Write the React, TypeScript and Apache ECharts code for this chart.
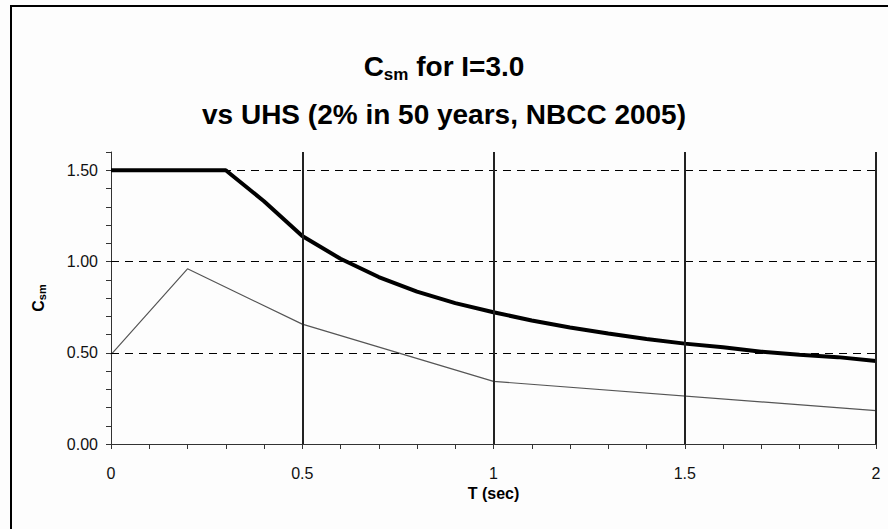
import React, { useEffect, useRef } from "react";
import * as echarts from "echarts";

const periods = [0, 0.1, 0.2, 0.3, 0.4, 0.5, 0.6, 0.7, 0.8, 0.9, 1.0, 1.1, 1.2, 1.3, 1.4, 1.5, 1.6, 1.7, 1.8, 1.9, 2.0];
const csmValues = [1.5, 1.5, 1.5, 1.5, 1.33, 1.14, 1.015, 0.915, 0.835, 0.772, 0.722, 0.677, 0.638, 0.606, 0.575, 0.55, 0.53, 0.506, 0.489, 0.476, 0.455];
const uhsPeriods = [0, 0.2, 0.5, 1.0, 2.0];
const uhsValues = [0.49, 0.96, 0.657, 0.343, 0.183];
const gridYValues = [0.5, 1.0, 1.5];
const gridXValues = [0.5, 1.0, 1.5, 2.0];
const xLabelValues = [0, 0.5, 1, 1.5, 2];
const yLabelValues = [0, 0.5, 1.0, 1.5];

const FONT = "'Liberation Sans', Arial, sans-serif";

const isIn = (v: number, arr: number[]) => arr.some((a) => Math.abs(a - v) < 1e-6);

export default function App() {
  const ref = useRef<HTMLDivElement>(null);
  useEffect(() => {
    if (!ref.current) return;
    const chart = echarts.init(ref.current, undefined, { renderer: "svg" });
    chart.setOption({
      animation: false,
      backgroundColor: "#fdfdfd",
      textStyle: { fontFamily: FONT },
      title: {
        text: "{a|C}{s|sm}{a| for I=3.0}\n{a|vs UHS (2% in 50 years, NBCC 2005)}",
        left: "center",
        top: 37,
        textStyle: {
          rich: {
            a: { fontFamily: FONT, fontSize: 28, fontWeight: "bold", color: "#000", lineHeight: 48 },
            s: { fontFamily: FONT, fontSize: 17, fontWeight: "bold", color: "#000", lineHeight: 48, padding: [16, 0, 0, 0] },
          },
        },
      },
      graphic: [
        {
          type: "rect",
          shape: { x: 11, y: 6, width: 900, height: 600 },
          style: { fill: "none", stroke: "#000", lineWidth: 2 },
          silent: true,
          z: 100,
        },
      ],
      grid: { left: 111, right: 12, top: 152, bottom: 85, containLabel: false },
      xAxis: {
        type: "value",
        min: 0,
        max: 2,
        interval: 0.1,
        name: "T (sec)",
        nameLocation: "middle",
        nameGap: 41,
        nameTextStyle: { fontFamily: FONT, fontSize: 16, fontWeight: "bold", color: "#000" },
        axisLine: { show: true, lineStyle: { color: "#333", width: 1 } },
        axisTick: { show: true, length: 5, lineStyle: { color: "#333" } },
        axisLabel: {
          fontFamily: FONT,
          fontSize: 16,
          color: "#111",
          margin: 21,
          formatter: (v: number) => (isIn(v, xLabelValues) ? String(Math.round(v * 10) / 10) : ""),
        },
        splitLine: { show: false },
      },
      yAxis: {
        type: "value",
        min: 0,
        max: 1.6,
        interval: 0.1,
        name: "{c|C}{s|sm}",
        nameLocation: "middle",
        nameGap: 64,
        nameRotate: 90,
        nameTextStyle: {
          rich: {
            c: { fontFamily: FONT, fontSize: 16, fontWeight: "bold", color: "#000" },
            s: { fontFamily: FONT, fontSize: 11, fontWeight: "bold", color: "#000", padding: [7, 0, 0, 0] },
          },
        },
        axisLine: { show: true, lineStyle: { color: "#333", width: 1 } },
        axisTick: { show: true, length: 5, lineStyle: { color: "#333" } },
        axisLabel: {
          fontFamily: FONT,
          fontSize: 16,
          color: "#111",
          margin: 13,
          formatter: (v: number) => (isIn(v, yLabelValues) ? v.toFixed(2) : ""),
        },
        splitLine: { show: false },
      },
      series: [
        {
          type: "line",
          name: "UHS",
          data: uhsPeriods.map((p, i) => [p, uhsValues[i]]),
          showSymbol: false,
          symbol: "none",
          lineStyle: { color: "#555", width: 1.2 },
          z: 3,
          markLine: {
            silent: true,
            symbol: "none",
            label: { show: false },
            data: [
              ...gridYValues.map((v) => ({ yAxis: v, lineStyle: { color: "#000", width: 1, type: [8, 6] } })),
              ...gridXValues.map((v) => ({ xAxis: v, lineStyle: { color: "#222", width: 2, type: "solid" } })),
            ],
          },
        },
        {
          type: "line",
          name: "Csm",
          data: periods.map((p, i) => [p, csmValues[i]]),
          showSymbol: false,
          symbol: "none",
          lineStyle: { color: "#000", width: 4 },
          z: 4,
        },
      ],
    });
    return () => chart.dispose();
  }, []);
  return <div ref={ref} style={{ position: "fixed", left: 0, top: 0, width: 888, height: 529 }} />;
}
